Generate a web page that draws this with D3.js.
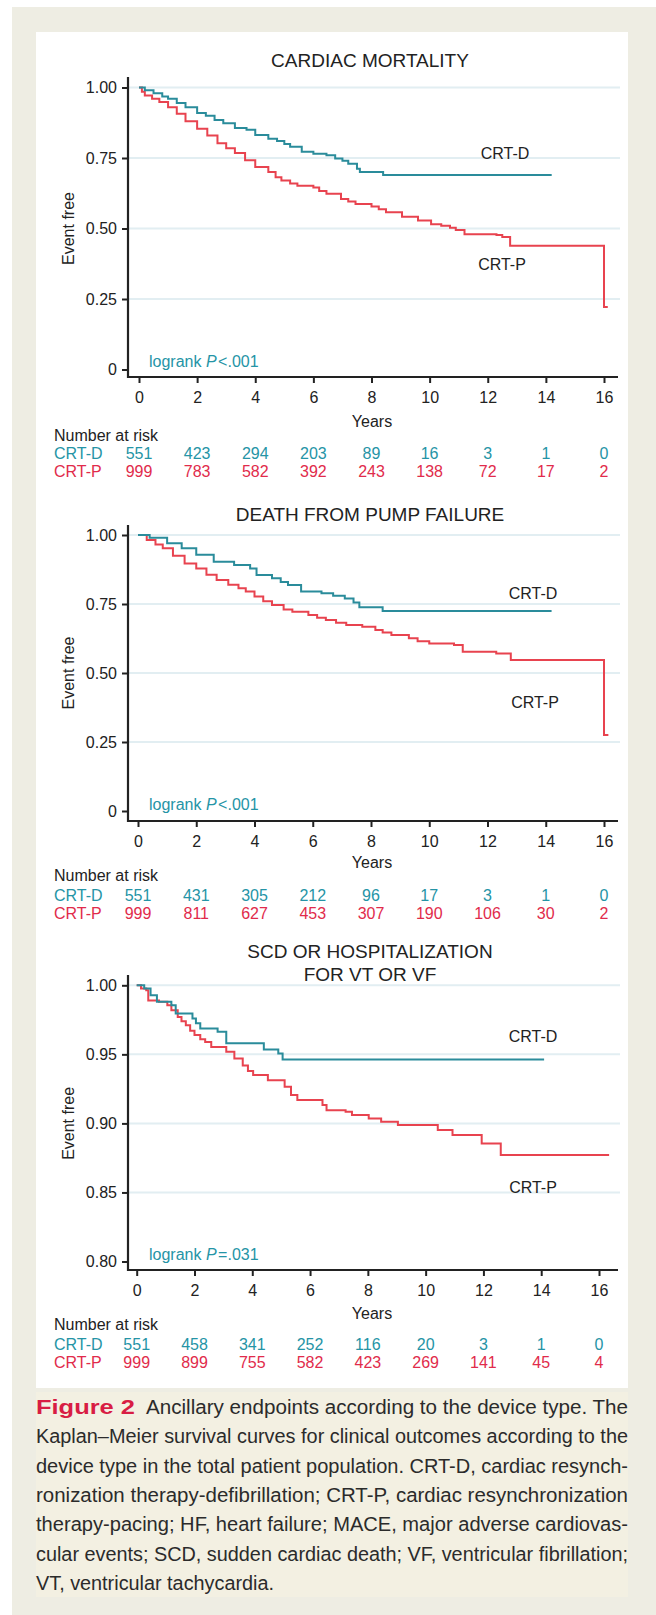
<!DOCTYPE html>
<html>
<head>
<meta charset="utf-8">
<script src="https://cdn.jsdelivr.net/npm/d3@7"></script>
<style>
  body { margin: 0; background: #fff; }
  svg text { font-family: "Liberation Sans", Arial, sans-serif; }
</style>
</head>
<body>
<svg id="fig" width="656" height="1615"></svg>
<script>
// x ticks and at-risk years
const years = [0, 2, 4, 6, 8, 10, 12, 14, 16];

// y ticks
const ticksFull = [0, 0.25, 0.5, 0.75, 1];
const ticksFullLabels = ["0", "0.25", "0.50", "0.75", "1.00"];
const ticksZoom = [0.8, 0.85, 0.9, 0.95, 1];
const ticksZoomLabels = ["0.80", "0.85", "0.90", "0.95", "1.00"];

// Kaplan-Meier curves, [years, event free]
const cardiacCRTD = [[0,1],[0.2,0.99],[0.5,0.98],[0.8,0.968],[1.0,0.96],[1.3,0.945],[1.6,0.93],[2.0,0.91],
  [2.3,0.9],[2.6,0.885],[2.9,0.873],[3.3,0.856],[3.7,0.85],[4.0,0.832],[4.45,0.818],[4.75,0.81],[5.0,0.8],
  [5.2,0.79],[5.6,0.772],[6.0,0.765],[6.45,0.76],[6.75,0.748],[7.0,0.74],[7.2,0.73],[7.5,0.712],[7.6,0.70],
  [8.4,0.69],[14.2,0.69]];
const cardiacCRTP = [[0,1],[0.1,0.985],[0.2,0.972],[0.45,0.96],[0.7,0.949],[1.0,0.93],[1.3,0.907],[1.6,0.88],
  [2.0,0.854],[2.35,0.83],[2.7,0.802],[3.0,0.785],[3.3,0.768],[3.65,0.742],[4.0,0.718],[4.45,0.70],[4.7,0.682],
  [4.9,0.67],[5.2,0.66],[5.45,0.652],[6.0,0.645],[6.2,0.633],[6.45,0.623],[6.95,0.605],[7.2,0.596],[7.45,0.587],
  [8.0,0.578],[8.25,0.568],[8.5,0.558],[9.05,0.542],[9.6,0.528],[10.05,0.515],[10.4,0.51],[10.7,0.503],
  [10.9,0.495],[11.2,0.48],[12.3,0.477],[12.5,0.47],[12.77,0.439],[16.0,0.222],[16.13,0.222]];

const pumpCRTD = [[0,1],[0.4,0.99],[1.0,0.97],[1.5,0.952],[2.0,0.928],[2.6,0.903],[3.3,0.891],[3.85,0.879],
  [4.07,0.855],[4.6,0.843],[4.9,0.83],[5.15,0.819],[5.6,0.795],[6.3,0.789],[6.7,0.78],[7.1,0.77],[7.4,0.755],
  [7.6,0.738],[8.4,0.725],[14.2,0.725]];
const pumpCRTP = [[0,1],[0.3,0.982],[0.6,0.966],[0.85,0.952],[1.2,0.925],[1.6,0.897],[2.0,0.879],[2.35,0.856],
  [2.7,0.837],[3.1,0.82],[3.45,0.807],[3.7,0.795],[4.0,0.777],[4.3,0.76],[4.6,0.746],[5.0,0.73],[5.3,0.722],
  [5.85,0.71],[6.15,0.7],[6.45,0.692],[6.8,0.682],[7.15,0.674],[7.7,0.668],[8.15,0.656],[8.4,0.647],[8.7,0.638],
  [9.3,0.626],[9.6,0.615],[10.0,0.607],[10.85,0.601],[11.15,0.577],[12.3,0.571],[12.8,0.547],[16.0,0.275],
  [16.15,0.275]];

const scdCRTD = [[0,1],[0.26,0.9976],[0.48,0.9928],[0.7,0.988],[1.2,0.9855],[1.35,0.9795],[1.93,0.976],
  [2.05,0.9725],[2.2,0.9687],[2.8,0.9663],[3.1,0.958],[4.4,0.9535],[4.9,0.9506],[5.05,0.9463],[14.1,0.9463]];
const scdCRTP = [[0,1],[0.15,0.9976],[0.33,0.9964],[0.4,0.989],[0.77,0.988],[1.06,0.9855],[1.2,0.982],
  [1.42,0.977],[1.55,0.974],[1.7,0.971],[1.85,0.967],[2.0,0.964],[2.2,0.961],[2.37,0.959],[2.58,0.9554],
  [3.1,0.9518],[3.38,0.947],[3.67,0.942],[3.85,0.938],[4.03,0.935],[4.54,0.9313],[5.12,0.9265],[5.34,0.9205],
  [5.56,0.9169],[6.43,0.9133],[6.57,0.9096],[7.23,0.9084],[7.45,0.906],[8.03,0.9036],[8.46,0.9012],
  [9.04,0.8988],[10.42,0.8952],[10.93,0.8916],[11.94,0.8855],[12.6,0.8771],[16.35,0.8771]];

// number at risk
const cardiacRiskD = [551, 423, 294, 203, 89, 16, 3, 1, 0];
const cardiacRiskP = [999, 783, 582, 392, 243, 138, 72, 17, 2];
const pumpRiskD = [551, 431, 305, 212, 96, 17, 3, 1, 0];
const pumpRiskP = [999, 811, 627, 453, 307, 190, 106, 30, 2];
const scdRiskD = [551, 458, 341, 252, 116, 20, 3, 1, 0];
const scdRiskP = [999, 899, 755, 582, 423, 269, 141, 45, 4];

const captionLines = [
  "Kaplan\u2013Meier survival curves for clinical outcomes according to the",
  "device type in the total patient population. CRT-D, cardiac resynch-",
  "ronization therapy-defibrillation; CRT-P, cardiac resynchronization",
  "therapy-pacing; HF, heart failure; MACE, major adverse cardiovas-",
  "cular events; SCD, sudden cardiac death; VF, ventricular fibrillation;",
  "VT, ventricular tachycardia."
];

const teal = "#2a8c9b", tealText = "#2594a6";
const red = "#e8434f", redText = "#e12b4b";
const ink = "#222";

const svg = d3.select("#fig");

// backgrounds
svg.append("rect").attr("x", 12).attr("y", 7).attr("width", 644).attr("height", 1608).attr("fill", "#eeede3");
svg.append("rect").attr("x", 36).attr("y", 32).attr("width", 592).attr("height", 1356).attr("fill", "#fff");
svg.append("rect").attr("x", 36).attr("y", 1392).attr("width", 592).attr("height", 205).attr("fill", "#f3f0e2");

const panels = [
  { title: ["CARDIAC MORTALITY"], titleY: [60], yDomain: [0, 1], yTicks: ticksFull, yLabels: ticksFullLabels,
    yTop: 87.5, yBot: 369.5, axisTop: 77, axisY: 377, x0: 139, x16: 604,
    crtd: cardiacCRTD, crtp: cardiacCRTP, riskD: cardiacRiskD, riskP: cardiacRiskP,
    labD: [505, 153], labP: [502, 264], p: "<.001", pY: 361,
    yearsY: 421, narY: 435, rowD: 453, rowP: 471 },
  { title: ["DEATH FROM PUMP FAILURE"], titleY: [514], yDomain: [0, 1], yTicks: ticksFull, yLabels: ticksFullLabels,
    yTop: 535, yBot: 811, axisTop: 525, axisY: 821, x0: 138, x16: 604,
    crtd: pumpCRTD, crtp: pumpCRTP, riskD: pumpRiskD, riskP: pumpRiskP,
    labD: [533, 593], labP: [535, 702], p: "<.001", pY: 804,
    yearsY: 862, narY: 875, rowD: 895, rowP: 913 },
  { title: ["SCD OR HOSPITALIZATION", "FOR VT OR VF"], titleY: [951, 974], yDomain: [0.8, 1], yTicks: ticksZoom, yLabels: ticksZoomLabels,
    yTop: 985.3, yBot: 1261.5, axisTop: 975, axisY: 1270, x0: 136.7, x16: 599,
    crtd: scdCRTD, crtp: scdCRTP, riskD: scdRiskD, riskP: scdRiskP,
    labD: [533, 1036], labP: [533, 1187], p: "=.031", pY: 1254,
    yearsY: 1313, narY: 1324, rowD: 1344, rowP: 1362 }
];

const axisX = 128, axisRight = 618, gridRight = 620;

panels.forEach(function(pn) {
  const g = svg.append("g");
  const x = d3.scaleLinear().domain([0, 16]).range([pn.x0, pn.x16]);
  const y = d3.scaleLinear().domain(pn.yDomain).range([pn.yBot, pn.yTop]);

  // title
  pn.title.forEach(function(t, i) {
    g.append("text").attr("x", 370).attr("y", pn.titleY[i]).attr("dy", "0.36em")
      .attr("text-anchor", "middle").attr("font-size", 19).attr("fill", ink).text(t);
  });

  // faint grid
  g.selectAll(".grid").data(pn.yTicks.slice(1)).enter().append("line")
    .attr("x1", axisX).attr("x2", gridRight)
    .attr("y1", d => y(d)).attr("y2", d => y(d))
    .attr("stroke", "#e2eef2").attr("stroke-width", 2);

  // curves
  const line = d3.line().x(d => x(d[0])).y(d => y(d[1])).curve(d3.curveStepAfter);
  g.append("path").datum(pn.crtp).attr("d", line).attr("fill", "none")
    .attr("stroke", red).attr("stroke-width", 2);
  g.append("path").datum(pn.crtd).attr("d", line).attr("fill", "none")
    .attr("stroke", teal).attr("stroke-width", 2);

  // y axis
  const yAxis = g.append("g").attr("transform", "translate(" + axisX + ",0)")
    .call(d3.axisLeft(y).tickValues(pn.yTicks).tickFormat((d, i) => pn.yLabels[i]).tickSize(6).tickPadding(5));
  yAxis.select(".domain").remove();
  yAxis.selectAll("text").attr("font-size", 16).attr("fill", ink).attr("font-family", "Liberation Sans, Arial, sans-serif");
  yAxis.selectAll("line").attr("stroke", ink).attr("stroke-width", 2);

  // x axis
  const xAxis = g.append("g").attr("transform", "translate(0," + pn.axisY + ")")
    .call(d3.axisBottom(x).tickValues(years).tickSize(6).tickPadding(9));
  xAxis.select(".domain").remove();
  xAxis.selectAll("text").attr("font-size", 16).attr("fill", ink).attr("font-family", "Liberation Sans, Arial, sans-serif");
  xAxis.selectAll("line").attr("stroke", ink).attr("stroke-width", 2);

  g.append("line").attr("x1", axisX).attr("x2", axisX).attr("y1", pn.axisTop).attr("y2", pn.axisY + 1)
    .attr("stroke", ink).attr("stroke-width", 2.2);
  g.append("line").attr("x1", axisX - 1).attr("x2", axisRight).attr("y1", pn.axisY).attr("y2", pn.axisY)
    .attr("stroke", ink).attr("stroke-width", 2.2);

  // axis titles
  g.append("text").attr("transform", "translate(68," + (pn.yTop + pn.yBot) / 2 + ") rotate(-90)")
    .attr("dy", "0.36em").attr("text-anchor", "middle").attr("font-size", 16).attr("fill", ink).text("Event free");
  g.append("text").attr("x", 372).attr("y", pn.yearsY).attr("dy", "0.36em")
    .attr("text-anchor", "middle").attr("font-size", 16).attr("fill", ink).text("Years");

  // curve labels
  g.append("text").attr("x", pn.labD[0]).attr("y", pn.labD[1]).attr("dy", "0.36em")
    .attr("text-anchor", "middle").attr("font-size", 16).attr("fill", ink).text("CRT-D");
  g.append("text").attr("x", pn.labP[0]).attr("y", pn.labP[1]).attr("dy", "0.36em")
    .attr("text-anchor", "middle").attr("font-size", 16).attr("fill", ink).text("CRT-P");

  // logrank
  const lr = g.append("text").attr("x", 149).attr("y", pn.pY).attr("dy", "0.36em")
    .attr("font-size", 16).attr("fill", tealText);
  lr.append("tspan").text("logrank ");
  lr.append("tspan").attr("font-style", "italic").text("P");
  lr.append("tspan").attr("dx", 1.5).text(pn.p);

  // number at risk table
  g.append("text").attr("x", 54).attr("y", pn.narY).attr("dy", "0.36em")
    .attr("font-size", 16).attr("fill", ink).text("Number at risk");
  g.append("text").attr("x", 54).attr("y", pn.rowD).attr("dy", "0.36em")
    .attr("font-size", 16).attr("fill", tealText).text("CRT-D");
  g.append("text").attr("x", 54).attr("y", pn.rowP).attr("dy", "0.36em")
    .attr("font-size", 16).attr("fill", redText).text("CRT-P");
  g.selectAll(".rd").data(pn.riskD).enter().append("text")
    .attr("x", (d, i) => x(years[i])).attr("y", pn.rowD).attr("dy", "0.36em")
    .attr("text-anchor", "middle").attr("font-size", 16).attr("fill", tealText).text(d => d);
  g.selectAll(".rp").data(pn.riskP).enter().append("text")
    .attr("x", (d, i) => x(years[i])).attr("y", pn.rowP).attr("dy", "0.36em")
    .attr("text-anchor", "middle").attr("font-size", 16).attr("fill", redText).text(d => d);
});

// caption
const cap = svg.append("g").style("font-family", "Lato, 'Open Sans', sans-serif").attr("font-size", 20).attr("fill", "#2b2b2b");
cap.append("text").attr("x", 36).attr("y", 1414).attr("font-weight", "bold").attr("fill", "#d81d44")
  .attr("font-size", 21).attr("textLength", 99).attr("lengthAdjust", "spacingAndGlyphs").text("Figure 2");
cap.append("text").attr("x", 146).attr("y", 1414).attr("textLength", 482).attr("lengthAdjust", "spacingAndGlyphs")
  .text("Ancillary endpoints according to the device type. The");
captionLines.forEach(function(t, i) {
  const tx = cap.append("text").attr("x", 36).attr("y", 1414 + (i + 1) * 29.3).text(t);
  if (i < captionLines.length - 1) tx.attr("textLength", 592).attr("lengthAdjust", "spacingAndGlyphs");
  else tx.attr("textLength", 238).attr("lengthAdjust", "spacingAndGlyphs");
});
</script>
</body>
</html>
